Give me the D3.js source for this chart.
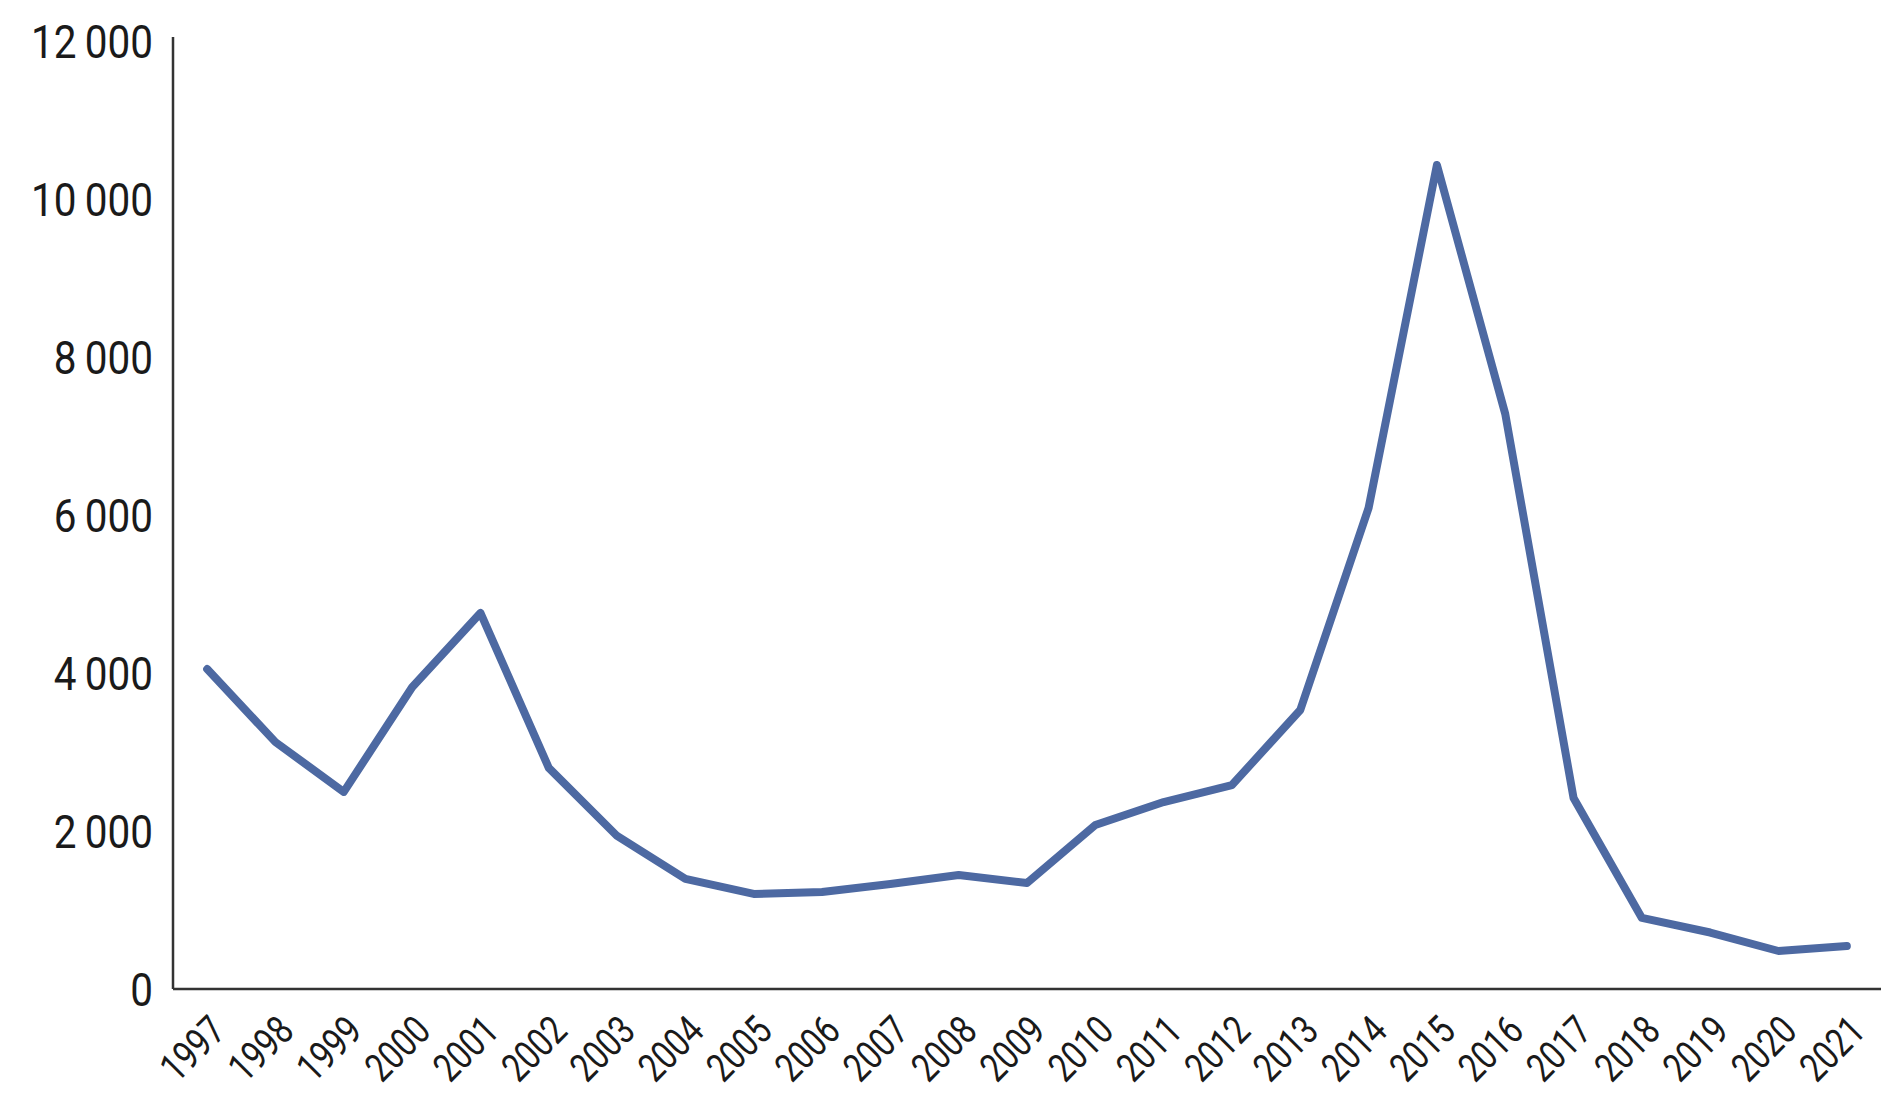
<!DOCTYPE html>
<html lang="en">
<head>
<meta charset="UTF-8">
<title>Chart</title>
<script src="https://cdn.jsdelivr.net/npm/d3@7"></script>
<style>
  body { margin: 0; background: #fff; }
  svg text { font-family: "Roboto", "DejaVu Sans", sans-serif; fill: #1a1a1a; }
</style>
</head>
<body>
<div id="chart"></div>
<script>
// years on the x axis
var years = ["1997","1998","1999","2000","2001","2002","2003","2004","2005","2006","2007","2008","2009",
             "2010","2011","2012","2013","2014","2015","2016","2017","2018","2019","2020","2021"];
// values
var values = [4050, 3125, 2495, 3820, 4760, 2800, 1937, 1395, 1203, 1228, 1329, 1443, 1342,
              2076, 2367, 2582, 3532, 6090, 10430, 7280, 2418, 900, 715, 481, 544];
var yTicks = [0, 2000, 4000, 6000, 8000, 10000, 12000];

var width = 1900, height = 1118;
var margin = {left: 173, right: 19, top: 41, bottom: 129};

var svg = d3.select("#chart").append("svg")
    .attr("width", width)
    .attr("height", height);

var x = d3.scalePoint()
    .domain(years)
    .range([margin.left, width - margin.right])
    .padding(0.5);

var y = d3.scaleLinear()
    .domain([0, 12000])
    .range([height - margin.bottom, margin.top]);

var fmt = d3.formatLocale({decimal: ",", thousands: "\u2009", grouping: [3], currency: ["", ""]}).format(",d");

// y axis - squeeze the text a bit, the original uses a narrow face
var yAxis = svg.append("g")
    .attr("transform", "translate(" + margin.left + ",0)")
    .call(d3.axisLeft(y).tickValues(yTicks).tickSize(0).tickFormat(fmt));
yAxis.select(".domain").attr("stroke", "#333").attr("stroke-width", 2.5)
    .attr("d", "M0," + (margin.top - 4) + "V" + y(0));
yAxis.selectAll("text")
    .attr("font-size", 46)
    .attr("x", 0)
    .attr("dy", "0.36em")
    .attr("text-anchor", "end")
    .attr("transform", "translate(-20,0) scale(0.88,1)");

// x axis
var xAxis = svg.append("g")
    .attr("transform", "translate(0," + y(0) + ")")
    .call(d3.axisBottom(x).tickSize(0));
xAxis.select(".domain").attr("stroke", "#333").attr("stroke-width", 2.5)
    .attr("d", "M" + margin.left + ",0H" + (width - margin.right));
xAxis.selectAll("text")
    .attr("font-size", 40)
    .attr("x", 0).attr("y", 0).attr("dy", 0)
    .attr("text-anchor", "end")
    .attr("transform", "translate(20,44) rotate(-45) scale(0.8,1)");

// line
var line = d3.line()
    .x(function(d, i) { return x(years[i]); })
    .y(function(d) { return y(d); });

svg.append("path")
    .datum(values)
    .attr("d", line)
    .attr("fill", "none")
    .attr("stroke", "#4d69a2")
    .attr("stroke-width", 8)
    .attr("stroke-linejoin", "round")
    .attr("stroke-linecap", "round");
</script>
</body>
</html>
